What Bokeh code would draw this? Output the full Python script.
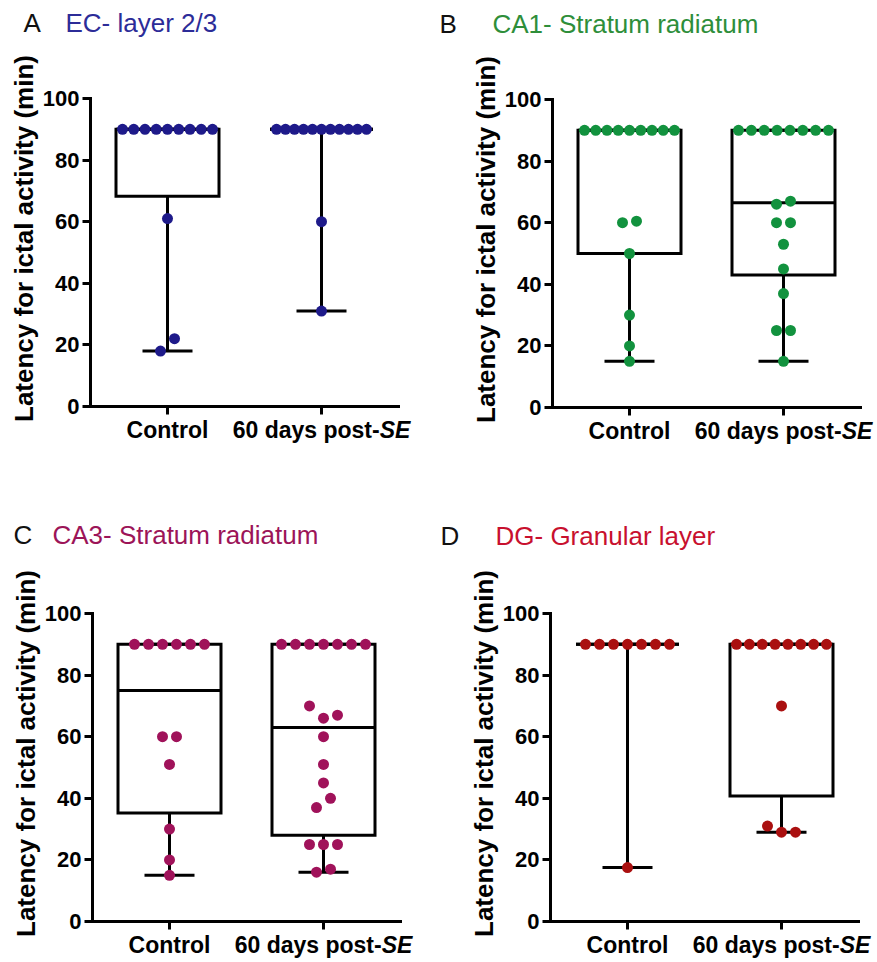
import math
from bokeh.plotting import figure
from bokeh.layouts import row, column
from bokeh.models import Range1d, FixedTicker, LinearAxis, ColumnDataSource
from bokeh.core.properties import value
from bokeh.embed import file_html
from bokeh.resources import INLINE

# ---------------- data ----------------
group_labels = ["Control", "60 days post-"]
group_label_italic = ["", "SE"]
y_ticks = [0, 20, 40, 60, 80, 100]
y_title = "Latency for ictal activity (min)"

panel_letters = ["A", "B", "C", "D"]
panel_titles = ["EC- layer 2/3", "CA1- Stratum radiatum", "CA3- Stratum radiatum", "DG- Granular layer"]
title_colors = ["#2c2c98", "#2e8e3a", "#9c1458", "#c8102e"]
dot_colors = ["#1e1a8a", "#12923e", "#a0125a", "#aa1010"]

a_control = [90, 90, 90, 90, 90, 90, 90, 90, 90, 61, 22, 18]
a_post = [90, 90, 90, 90, 90, 90, 90, 90, 90, 90, 90, 60, 31]
b_control = [90, 90, 90, 90, 90, 90, 90, 90, 90, 60.5, 60, 50, 30, 20, 15]
b_post = [90, 90, 90, 90, 90, 90, 90, 90, 67, 66, 60, 60, 53, 45, 37, 25, 25, 15]
c_control = [90, 90, 90, 90, 90, 90, 60, 60, 51, 30, 20, 15]
c_post = [90, 90, 90, 90, 90, 90, 90, 70, 67, 66, 60, 51, 45, 40, 37, 25, 25, 25, 17, 16]
d_control = [90, 90, 90, 90, 90, 90, 90, 17.5]
d_post = [90, 90, 90, 90, 90, 90, 90, 90, 70, 31, 29, 29]

panel_data = [[a_control, a_post], [b_control, b_post], [c_control, c_post], [d_control, d_post]]

# ---------------- layout constants ----------------
FONT = "Liberation Sans"
FRAME = 308                      # px for the 0..100 / -0.5..1.5 plotting box
X_LO, X_HI = -0.5, 1.5
Y_LO, Y_HI = 0, 100
SX = FRAME / (X_HI - X_LO)       # px per x unit
SY = FRAME / (Y_HI - Y_LO)       # px per y unit
BOX_W = 103 / SX
CAP_W = 50 / SX
DOT_STEP = 14 / SX
DOT_MAXW = 90 / SX
GROUP_THRESH = 4.5
LW = 3
XLABEL_DROP = 23                 # px from x axis to label baseline

BOLD_W = {"6": .556, "0": .556, " ": .278, "d": .611, "a": .556, "y": .556, "s": .556,
          "p": .611, "o": .611, "t": .333, "-": .333, "S": .667, "E": .667,
          "C": .722, "n": .611, "r": .389, "l": .278}


def text_w(s, fs):
    return sum(BOLD_W.get(ch, .6) for ch in s) * fs


def pct(vals, p):
    s = sorted(vals)
    n = len(s)
    pos = (n + 1) * p
    if pos <= 1:
        return s[0]
    if pos >= n:
        return s[-1]
    k = int(pos)
    f = pos - k
    return s[k - 1] + f * (s[k] - s[k - 1])


def swarm(vals, center):
    s = sorted(vals)
    groups, cur = [], [s[0]]
    for v in s[1:]:
        if v - cur[-1] < GROUP_THRESH:
            cur.append(v)
        else:
            groups.append(cur)
            cur = [v]
    groups.append(cur)
    xs, ys = [], []
    for g in groups:
        n = len(g)
        step = DOT_STEP if n == 1 else min(DOT_STEP, DOT_MAXW / (n - 1))
        if n % 2:
            slots = [0] + [k * sg for k in range(1, n // 2 + 1) for sg in (1, -1)]
        else:
            slots = [(k + 0.5) * sg for k in range(n // 2) for sg in (-1, 1)]
        for v, sl in zip(g, slots):
            xs.append(center + sl * step)
            ys.append(v)
    return xs, ys


def make_panel(i, W, H, L, T, letter_px, title_px, title_base_px):
    # frame covers the whole figure; data box [-0.5,1.5]x[0,100] sits at (L,T)
    x0 = X_LO - L / SX
    y1 = Y_HI + T / SY
    p = figure(width=W, height=H,
               x_range=Range1d(x0, x0 + W / SX),
               y_range=Range1d(y1 - H / SY, y1),
               output_backend="svg", toolbar_location=None, title=None,
               x_axis_location=None, y_axis_location=None, min_border=0)
    p.outline_line_color = None
    p.grid.visible = False
    p.background_fill_color = "white"
    p.border_fill_color = "white"

    def px_x(px):
        return x0 + px / SX

    def px_y(px):
        return y1 - px / SY

    centers = list(range(len(panel_data[i])))

    # axes at fixed locations
    yax = LinearAxis(fixed_location=X_LO, bounds=(Y_LO, Y_HI), ticker=FixedTicker(ticks=y_ticks))
    xax = LinearAxis(fixed_location=Y_LO, bounds=(X_LO, X_HI), ticker=FixedTicker(ticks=centers),
                     major_label_overrides={c: "" for c in centers})
    for ax in (xax, yax):
        ax.axis_line_width = LW
        ax.axis_line_color = "black"
        ax.axis_line_cap = "square"
        ax.major_tick_line_width = LW
        ax.major_tick_line_color = "black"
        ax.major_tick_in = 0
        ax.major_tick_out = 8
        ax.minor_tick_line_color = None
        ax.major_label_standoff = 3
        ax.major_label_text_font = FONT
        ax.major_label_text_font_style = "bold"
        ax.major_label_text_font_size = "22px"
        ax.major_label_text_color = "black"
    p.add_layout(yax, "left")
    p.add_layout(xax, "below")

    # box plots (GraphPad-style percentiles, whiskers min..max)
    q1 = [pct(d, .25) for d in panel_data[i]]
    med = [pct(d, .5) for d in panel_data[i]]
    q3 = [pct(d, .75) for d in panel_data[i]]
    lo = [min(d) for d in panel_data[i]]
    hi = [max(d) for d in panel_data[i]]
    src = ColumnDataSource(dict(
        c=centers, q1=q1, med=med, q3=q3, lo=lo, hi=hi,
        bl=[c - BOX_W / 2 for c in centers], br=[c + BOX_W / 2 for c in centers],
        cl=[c - CAP_W / 2 for c in centers], cr=[c + CAP_W / 2 for c in centers]))
    kw = dict(source=src, line_color="black", line_width=LW)
    p.segment(x0="c", y0="lo", x1="c", y1="q1", **kw)
    p.segment(x0="c", y0="q3", x1="c", y1="hi", **kw)
    p.segment(x0="cl", y0="lo", x1="cr", y1="lo", **kw)
    p.segment(x0="cl", y0="hi", x1="cr", y1="hi", **kw)
    p.quad(left="bl", right="br", bottom="q1", top="q3", fill_color=None, line_join="miter", **kw)
    p.segment(x0="bl", y0="med", x1="br", y1="med", **kw)

    xs, ys = [], []
    for c, d in zip(centers, panel_data[i]):
        x, y = swarm(d, c)
        xs += x
        ys += y
    p.scatter(x=xs, y=ys, marker="circle", size=11, fill_color=dot_colors[i], line_color=None)

    # y-axis title
    p.text(x=[X_LO - 67 / SX], y=[(Y_LO + Y_HI) / 2 + 14 / SY], text=[y_title], angle=math.pi / 2,
           text_align="center", text_baseline="middle", text_font=value(FONT),
           text_font_style="bold", text_font_size="26px", text_color="black")

    # category labels (upright + italic part)
    fs = 23
    lx, lt, lst, lal = [], [], [], []
    for c, g, it in zip(centers, group_labels, group_label_italic):
        if it:
            split = (text_w(g, fs) - text_w(it, fs)) / 2 / SX
            lx += [c + split, c + split]
            lt += [g, it]
            lst += ["bold", "bold italic"]
            lal += ["right", "left"]
        else:
            lx.append(c)
            lt.append(g)
            lst.append("bold")
            lal.append("center")
    lsrc = ColumnDataSource(dict(x=lx, y=[Y_LO - XLABEL_DROP / SY] * len(lx), text=lt, style=lst, align=lal))
    p.text(x="x", y="y", text="text", source=lsrc, text_align="align", text_font_style="style",
           text_baseline="alphabetic", text_font=value(FONT), text_font_size=f"{fs}px",
           text_color="black")

    # panel letter + title
    tsrc = ColumnDataSource(dict(x=[px_x(letter_px), px_x(title_px)], y=[px_y(title_base_px)] * 2,
                                 text=[panel_letters[i], panel_titles[i]],
                                 color=["#111111", title_colors[i]]))
    p.text(x="x", y="y", text="text", text_color="color", source=tsrc, text_align="left",
           text_baseline="alphabetic", text_font=value(FONT), text_font_size="26px")
    return p


pa = make_panel(0, 438, 516, 90, 98, 23, 65, 22)
pb = make_panel(1, 439, 516, 114, 99, 1, 492 - 438, 23)
pc = make_panel(2, 438, 446, 92, 97, 13, 52, 534 - 516)
pd = make_panel(3, 439, 446, 112, 97, 2, 495 - 438, 535 - 516)

layout = column(row(pa, pb), row(pc, pd))
open("out.html", "w").write(file_html(layout, INLINE))
